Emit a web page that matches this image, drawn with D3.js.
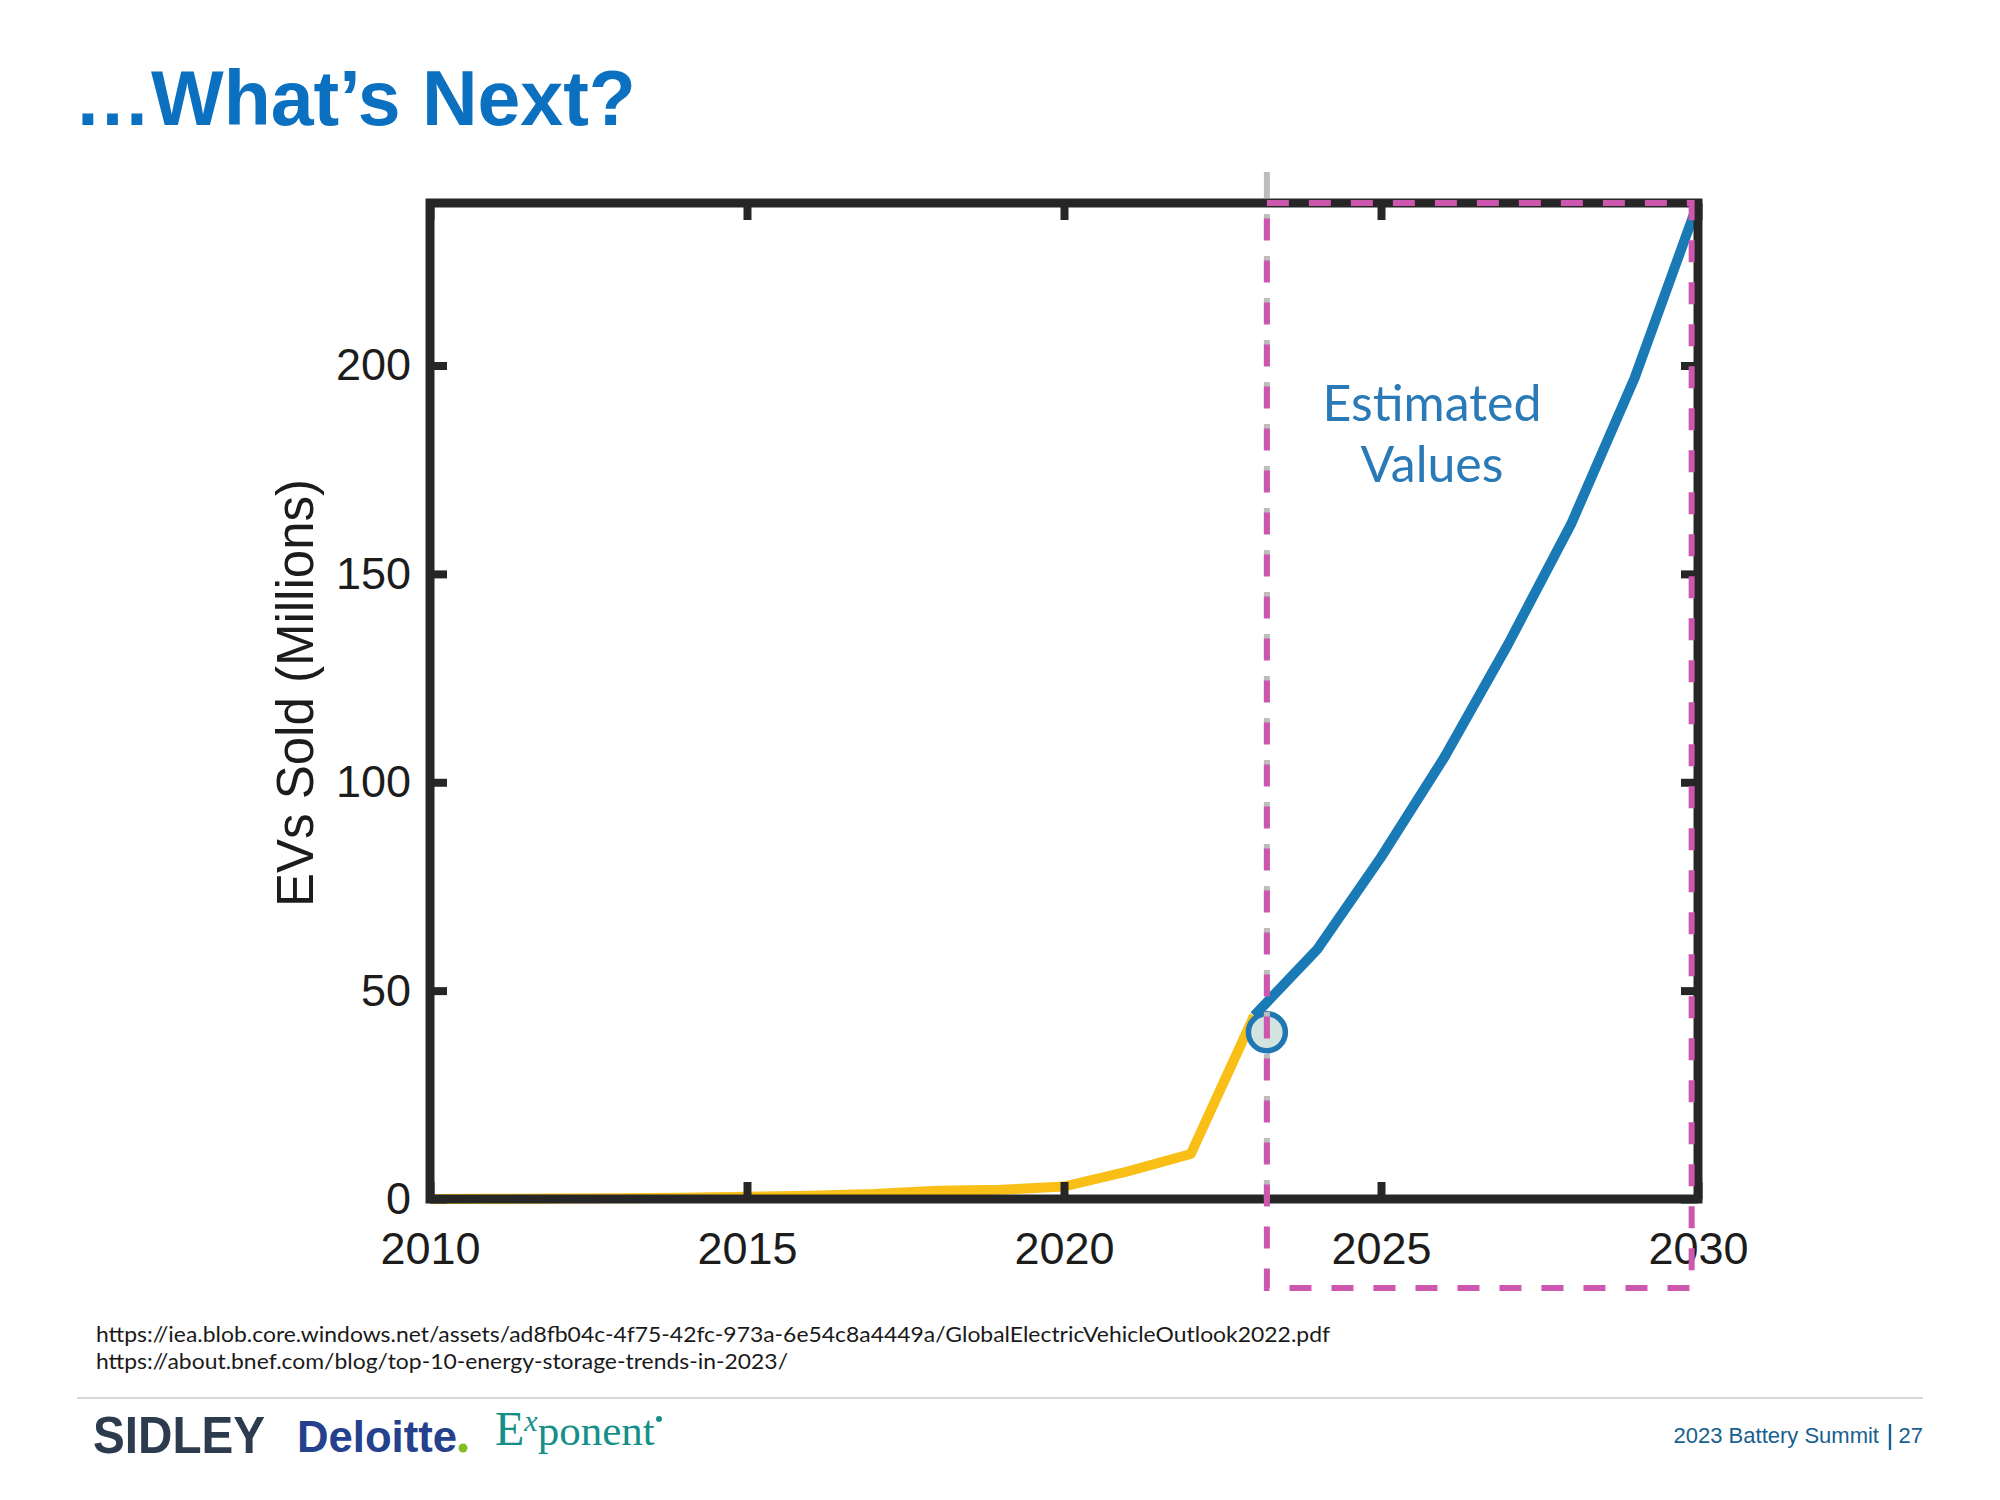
<!DOCTYPE html>
<html><head><meta charset="utf-8">
<script src="https://cdn.jsdelivr.net/npm/d3@7"></script>
<style>body{margin:0;background:#fff;} svg{display:block;}</style>
</head><body>
<svg id="c" width="2000" height="1500"></svg>
<script>
// ---- data ----
const histYears  = [2010,2011,2012,2013,2014,2015,2016,2017,2018,2019,2020,2021,2022,2023];
const histValues = [0.02,0.05,0.13,0.2,0.32,0.55,0.75,1.2,2.0,2.2,3.0,6.6,10.8,44];
const estYears   = [2023,2024,2025,2026,2027,2028,2029,2030];
const estValues  = [44,60,82,106,133,162,197,239];
const markerYears  = [2023.2];
const markerValues = [40];
const estStart = 2023.2;
const estEnd = 2029.9;
const xTicks = [2010,2015,2020,2025,2030];
const yTicks = [0,50,100,150,200];
const xDomain = [2010,2030];
const yDomain = [0,239];
const titleText = "\u2026What\u2019s Next?";
const yLabel = "EVs Sold (Millions)";
const noteLines = ["Estimated","Values"];
const footnotes = [
  "https://iea.blob.core.windows.net/assets/ad8fb04c-4f75-42fc-973a-6e54c8a4449a/GlobalElectricVehicleOutlook2022.pdf",
  "https://about.bnef.com/blog/top-10-energy-storage-trends-in-2023/"
];
const footerRight = ["2023 Battery Summit","27"];

// ---- layout ----
const L = 430, R = 1698, T = 203, B = 1199;
const svg = d3.select("#c");
svg.append("rect").attr("width",2000).attr("height",1500).attr("fill","#fff");

const x = d3.scaleLinear().domain(xDomain).range([L,R]);
const y = d3.scaleLinear().domain(yDomain).range([B,T]);

// title
svg.append("text").attr("x",74).attr("y",125)
  .attr("font-family","'Liberation Sans', Arial, sans-serif").attr("font-weight","bold")
  .attr("font-size",77).attr("fill","#0b70bf").text(titleText);

// lines
const line = d3.line().x(d=>x(d[0])).y(d=>y(d[1]));
svg.append("path").datum(histYears.map((yr,i)=>[yr,histValues[i]]))
  .attr("d",line).attr("fill","none").attr("stroke","#f9bf16")
  .attr("stroke-width",10).attr("stroke-linejoin","round");
svg.append("path").datum(estYears.map((yr,i)=>[yr,estValues[i]]))
  .attr("d",line).attr("fill","none").attr("stroke","#1a7ab5")
  .attr("stroke-width",10).attr("stroke-linejoin","round");

// axes (ticks inward)
const axisColor = "#262626";
function styleAxis(g){
  g.select(".domain").remove();
  g.selectAll(".tick line").attr("stroke",axisColor).attr("stroke-width",8);
  g.selectAll(".tick text").attr("fill","#1c1c1c")
    .attr("font-family","'Liberation Sans', Arial, sans-serif").attr("font-size",45);
}
svg.append("g").attr("transform",`translate(0,${B})`)
  .call(d3.axisBottom(x).tickValues(xTicks).tickFormat(d3.format("d")).tickSizeInner(-17).tickSizeOuter(0).tickPadding(33))
  .call(styleAxis);
svg.append("g").attr("transform",`translate(0,${T})`)
  .call(d3.axisTop(x).tickValues(xTicks).tickFormat("").tickSizeInner(-17).tickSizeOuter(0))
  .call(styleAxis);
svg.append("g").attr("transform",`translate(${L},0)`)
  .call(d3.axisLeft(y).tickValues(yTicks).tickFormat(d3.format("d")).tickSizeInner(-17).tickSizeOuter(0).tickPadding(19))
  .call(styleAxis);
svg.append("g").attr("transform",`translate(${R},0)`)
  .call(d3.axisRight(y).tickValues(yTicks).tickFormat("").tickSizeInner(-17).tickSizeOuter(0))
  .call(styleAxis);
svg.append("rect").attr("x",L).attr("y",T).attr("width",R-L).attr("height",B-T)
  .attr("fill","none").attr("stroke",axisColor).attr("stroke-width",9);

// y label
svg.append("text").attr("transform",`translate(313,${(T+B)/2-8}) rotate(-90)`)
  .attr("text-anchor","middle").attr("font-family","'Liberation Sans', Arial, sans-serif")
  .attr("font-size",51).attr("fill","#1c1c1c").text(yLabel);

// marker
svg.selectAll("circle.mk").data(markerYears).join("circle").attr("class","mk")
  .attr("cx",d=>x(d)).attr("cy",(d,i)=>y(markerValues[i])).attr("r",18.5)
  .attr("fill","#d3e3df").attr("stroke","#1f78b4").attr("stroke-width",5.5);

// estimated region: gray dashed guide + magenta dashed box
const ex0 = x(estStart), ex1 = x(estEnd);
svg.append("line").attr("x1",ex0).attr("x2",ex0).attr("y1",T-31).attr("y2",B)
  .attr("stroke","#bdbdbd").attr("stroke-width",6).attr("stroke-dasharray","26,16");
const boxBottom = B + 89;
svg.append("path")
  .attr("d",`M${ex0},${T} L${ex1},${T} L${ex1},${boxBottom} L${ex0},${boxBottom} Z`)
  .attr("fill","none").attr("stroke","#cd56ae").attr("stroke-width",6)
  .attr("stroke-dasharray","22,20");

// note text
svg.append("g").selectAll("text").data(noteLines).join("text")
  .attr("x",1432).attr("y",(d,i)=>421+i*61).attr("text-anchor","middle")
  .attr("font-family","Lato, 'Noto Sans', sans-serif").attr("font-size",50)
  .attr("fill","#2a7ab7").text(d=>d);

// footnotes
const fnLens = [1234, 692];
svg.append("g").selectAll("text").data(footnotes).join("text")
  .attr("x",96).attr("y",(d,i)=>1342+i*27)
  .attr("font-family","Lato, 'Noto Sans', sans-serif").attr("font-size",22)
  .attr("fill","#1a1a1a").attr("textLength",(d,i)=>fnLens[i]).attr("lengthAdjust","spacingAndGlyphs")
  .text(d=>d);

// separator
svg.append("line").attr("x1",77).attr("x2",1923).attr("y1",1398).attr("y2",1398)
  .attr("stroke","#d3d8dc").attr("stroke-width",2);

// logos
svg.append("text").attr("x",93).attr("y",1453).attr("font-family","'Liberation Sans', Arial, sans-serif")
  .attr("font-weight","bold").attr("font-size",52).attr("fill","#2d3b4e")
  .attr("textLength",172).attr("lengthAdjust","spacingAndGlyphs").text("SIDLEY");
svg.append("text").attr("x",297).attr("y",1452).attr("font-family","'Liberation Sans', Arial, sans-serif")
  .attr("font-weight","bold").attr("font-size",45).attr("fill","#25408c")
  .attr("textLength",160).attr("lengthAdjust","spacingAndGlyphs").text("Deloitte");
svg.append("circle").attr("cx",463).attr("cy",1448).attr("r",4.5).attr("fill","#86bc25");
const ex = svg.append("text").attr("x",495).attr("y",1445)
  .attr("font-family","'Liberation Serif', 'Times New Roman', serif").attr("fill","#168f89");
ex.append("tspan").attr("font-size",48).text("E");
ex.append("tspan").attr("font-size",30).attr("font-style","italic").attr("dy",-14).text("x");
ex.append("tspan").attr("font-size",43).attr("dy",14).text("ponent");
svg.append("circle").attr("cx",659).attr("cy",1419).attr("r",3).attr("fill","#168f89");

// footer right
const fr = svg.append("g").attr("font-family","'Liberation Sans', Arial, sans-serif")
  .attr("font-size",22).attr("fill","#17608f");
fr.append("text").attr("x",1879).attr("y",1443).attr("text-anchor","end").text(footerRight[0]);
fr.append("line").attr("x1",1890).attr("x2",1890).attr("y1",1424).attr("y2",1450)
  .attr("stroke","#17608f").attr("stroke-width",2.4);
fr.append("text").attr("x",1923).attr("y",1443).attr("text-anchor","end").text(footerRight[1]);
</script>
</body></html>
